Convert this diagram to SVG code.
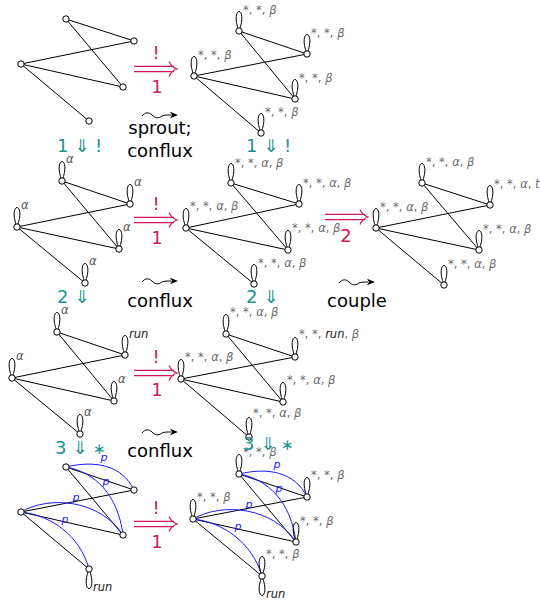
<svg xmlns="http://www.w3.org/2000/svg" xmlns:xlink="http://www.w3.org/1999/xlink" width="540" height="601" viewBox="0 0 540 601">
<style>
.e{fill:none;stroke:#000;stroke-width:1}
.b{fill:none;stroke:#1a1aff;stroke-width:1}
.n{fill:#fff;stroke:#000;stroke-width:1}
.lb{font-family:"DejaVu Sans",sans-serif;font-size:11.5px;fill:#6b6b6b}
.al{font-family:"DejaVu Sans",sans-serif;font-size:11.5px;fill:#555;font-style:italic}
.rn{font-family:"DejaVu Sans",sans-serif;font-size:11.5px;fill:#222;font-style:italic}
.i{font-style:italic}
.pl{font-family:"DejaVu Sans",sans-serif;font-size:11px;fill:#1a1aff;font-style:italic;text-anchor:middle}
.bk{font-family:"DejaVu Sans",sans-serif;font-size:18px;fill:#000;text-anchor:middle}
.cr{font-family:"DejaVu Sans",sans-serif;font-size:18px;fill:#d0165c;text-anchor:middle}
.tl{font-family:"DejaVu Sans",sans-serif;font-size:18px;fill:#1c9191}
.st{font-size:15px}
</style>
<defs>
<path id="lu" d="M0,0 C-10,-26 10,-26 0,0" fill="none" stroke="#000" stroke-width="1"/>
<path id="ld" d="M0,0 C-10,26 10,26 0,0" fill="none" stroke="#000" stroke-width="1"/>
<g id="sq"><path d="M0,1 C3,-3 7,-3 10,0 S16,4 20,1 C22,0 25,0 29,0" fill="none" stroke="#000" stroke-width="1"/><path d="M36,0 L28,-3.2 L30,0 L28,3.2Z" fill="#000"/></g>
<g id="da"><path d="M0,-2.6H40M0,2.6H40M35,-7.5 C37,-3 40,-1 43,0 C40,1 37,3 35,7.5" fill="none" stroke="#d0165c" stroke-width="1.2"/></g>
</defs>

<g id="connectors">
<path class="e" d="M66,19L134,41M66,19L123,87M21,64L134,41M21,64L123,87M21,64L89,121"/>
<path class="e" d="M239,31L307,54M239,31L295,99M194,76L307,54M194,76L295,99M194,76L261,133"/>
<path class="e" d="M62,181L130,204M62,181L119,249M17,227L130,204M17,227L119,249M17,227L85,283"/>
<path class="e" d="M231,183L299,204M231,183L288,250M186,228L299,204M186,228L288,250M186,228L254,284"/>
<path class="e" d="M422,183L490,205M422,183L479,250M376,228L490,205M376,228L479,250M376,228L444,285"/>
<path class="e" d="M57,332L125,355M57,332L114,401M12,378L125,355M12,378L114,401M12,378L80,434"/>
<path class="e" d="M226,334L295,357M226,334L283,402M181,379L295,357M181,379L283,402M181,379L249,437"/>
<path class="e" d="M66,467L134,490M66,467L123,535M21,512L134,490M21,512L123,535M21,512L89,569"/>
<path class="e" d="M239,474L307,497M239,474L296,542M193,519L307,497M193,519L296,542M193,519L262,576"/>
<path class="b" d="M66,467 C95,460 122,465 134,490M66,467 C95,472 118,495 123,535M21,512 C50,495 100,500 123,535M21,512 C50,515 80,535 89,569"/>
<path class="b" d="M239,474 C268,467 295,472 307,497M239,474 C268,479 291,502 296,542M193,519 C222,502 273,507 296,542M193,519 C222,522 252,542 262,576"/>
<text class="pl" x="104" y="461">p</text><text class="pl" x="106" y="485">p</text><text class="pl" x="76" y="501">p</text><text class="pl" x="65" y="523">p</text>
<text class="pl" x="277" y="468">p</text><text class="pl" x="279" y="492">p</text><text class="pl" x="249" y="508">p</text><text class="pl" x="238" y="530">p</text>
</g>

<g id="p1">
<g id="p1-a"><circle class="n" cx="66" cy="19" r="3.2"/></g>
<g id="p1-b"><circle class="n" cx="134" cy="41" r="3.2"/></g>
<g id="p1-c"><circle class="n" cx="21" cy="64" r="3.2"/></g>
<g id="p1-d"><circle class="n" cx="123" cy="87" r="3.2"/></g>
<g id="p1-e"><circle class="n" cx="89" cy="121" r="3.2"/></g>
</g>

<g id="p2">
<g id="p2-a"><use xlink:href="#lu" x="239" y="31"/><circle class="n" cx="239" cy="31" r="3.2"/><text class="lb" x="243" y="14">*, *, <tspan class="i">β</tspan></text></g>
<g id="p2-b"><use xlink:href="#lu" x="307" y="54"/><circle class="n" cx="307" cy="54" r="3.2"/><text class="lb" x="311" y="37">*, *, <tspan class="i">β</tspan></text></g>
<g id="p2-c"><use xlink:href="#lu" x="194" y="76"/><circle class="n" cx="194" cy="76" r="3.2"/><text class="lb" x="198" y="59">*, *, <tspan class="i">β</tspan></text></g>
<g id="p2-d"><use xlink:href="#lu" x="295" y="99"/><circle class="n" cx="295" cy="99" r="3.2"/><text class="lb" x="299" y="82">*, *, <tspan class="i">β</tspan></text></g>
<g id="p2-e"><use xlink:href="#lu" x="261" y="133"/><circle class="n" cx="261" cy="133" r="3.2"/><text class="lb" x="265" y="116">*, *, <tspan class="i">β</tspan></text></g>
</g>

<g id="p3">
<g id="p3-a"><use xlink:href="#lu" x="62" y="181"/><circle class="n" cx="62" cy="181" r="3.2"/><text class="al" x="66" y="163">α</text></g>
<g id="p3-b"><use xlink:href="#lu" x="130" y="204"/><circle class="n" cx="130" cy="204" r="3.2"/><text class="al" x="134" y="186">α</text></g>
<g id="p3-c"><use xlink:href="#lu" x="17" y="227"/><circle class="n" cx="17" cy="227" r="3.2"/><text class="al" x="21" y="209">α</text></g>
<g id="p3-d"><use xlink:href="#lu" x="119" y="249"/><circle class="n" cx="119" cy="249" r="3.2"/><text class="al" x="123" y="231">α</text></g>
<g id="p3-e"><use xlink:href="#lu" x="85" y="283"/><circle class="n" cx="85" cy="283" r="3.2"/><text class="al" x="89" y="265">α</text></g>
</g>

<g id="p4">
<g id="p4-a"><use xlink:href="#lu" x="231" y="183"/><circle class="n" cx="231" cy="183" r="3.2"/><text class="lb" x="235" y="167">*, *, <tspan class="i">α</tspan>, <tspan class="i">β</tspan></text></g>
<g id="p4-b"><use xlink:href="#lu" x="299" y="204"/><circle class="n" cx="299" cy="204" r="3.2"/><text class="lb" x="303" y="187">*, *, <tspan class="i">α</tspan>, <tspan class="i">β</tspan></text></g>
<g id="p4-c"><use xlink:href="#lu" x="186" y="228"/><circle class="n" cx="186" cy="228" r="3.2"/><text class="lb" x="190" y="210">*, *, <tspan class="i">α</tspan>, <tspan class="i">β</tspan></text></g>
<g id="p4-d"><use xlink:href="#lu" x="288" y="250"/><circle class="n" cx="288" cy="250" r="3.2"/><text class="lb" x="292" y="232">*, *, <tspan class="i">α</tspan>, <tspan class="i">β</tspan></text></g>
<g id="p4-e"><use xlink:href="#lu" x="254" y="284"/><circle class="n" cx="254" cy="284" r="3.2"/><text class="lb" x="258" y="267">*, *, <tspan class="i">α</tspan>, <tspan class="i">β</tspan></text></g>
</g>

<g id="p5">
<g id="p5-a"><use xlink:href="#lu" x="422" y="183"/><circle class="n" cx="422" cy="183" r="3.2"/><text class="lb" x="426" y="166">*, *, <tspan class="i">α</tspan>, <tspan class="i">β</tspan></text></g>
<g id="p5-b"><use xlink:href="#lu" x="490" y="205"/><circle class="n" cx="490" cy="205" r="3.2"/><text class="lb" x="494" y="188">*, *, <tspan class="i">α</tspan>, <tspan class="i">t</tspan></text></g>
<g id="p5-c"><use xlink:href="#lu" x="376" y="228"/><circle class="n" cx="376" cy="228" r="3.2"/><text class="lb" x="380" y="211">*, *, <tspan class="i">α</tspan>, <tspan class="i">β</tspan></text></g>
<g id="p5-d"><use xlink:href="#lu" x="479" y="250"/><circle class="n" cx="479" cy="250" r="3.2"/><text class="lb" x="483" y="233">*, *, <tspan class="i">α</tspan>, <tspan class="i">β</tspan></text></g>
<g id="p5-e"><use xlink:href="#lu" x="444" y="285"/><circle class="n" cx="444" cy="285" r="3.2"/><text class="lb" x="448" y="268">*, *, <tspan class="i">α</tspan>, <tspan class="i">β</tspan></text></g>
</g>

<g id="p6">
<g id="p6-a"><use xlink:href="#lu" x="57" y="332"/><circle class="n" cx="57" cy="332" r="3.2"/><text class="al" x="61" y="314">α</text></g>
<g id="p6-b"><use xlink:href="#lu" x="125" y="355"/><circle class="n" cx="125" cy="355" r="3.2"/><text class="rn" x="129" y="338">run</text></g>
<g id="p6-c"><use xlink:href="#lu" x="12" y="378"/><circle class="n" cx="12" cy="378" r="3.2"/><text class="al" x="16" y="360">α</text></g>
<g id="p6-d"><use xlink:href="#lu" x="114" y="401"/><circle class="n" cx="114" cy="401" r="3.2"/><text class="al" x="118" y="383">α</text></g>
<g id="p6-e"><use xlink:href="#lu" x="80" y="434"/><circle class="n" cx="80" cy="434" r="3.2"/><text class="al" x="84" y="416">α</text></g>
</g>

<g id="p7">
<g id="p7-a"><use xlink:href="#lu" x="226" y="334"/><circle class="n" cx="226" cy="334" r="3.2"/><text class="lb" x="230" y="316">*, *, <tspan class="i">α</tspan>, <tspan class="i">β</tspan></text></g>
<g id="p7-b"><use xlink:href="#lu" x="295" y="357"/><circle class="n" cx="295" cy="357" r="3.2"/><text class="lb" x="299" y="338">*, *, <tspan class="i" fill="#222">run</tspan>, <tspan class="i">β</tspan></text></g>
<g id="p7-c"><use xlink:href="#lu" x="181" y="379"/><circle class="n" cx="181" cy="379" r="3.2"/><text class="lb" x="185" y="361">*, *, <tspan class="i">α</tspan>, <tspan class="i">β</tspan></text></g>
<g id="p7-d"><use xlink:href="#lu" x="283" y="402"/><circle class="n" cx="283" cy="402" r="3.2"/><text class="lb" x="287" y="384">*, *, <tspan class="i">α</tspan>, <tspan class="i">β</tspan></text></g>
<g id="p7-e"><use xlink:href="#lu" x="249" y="437"/><circle class="n" cx="249" cy="437" r="3.2"/><text class="lb" x="253" y="417">*, *, <tspan class="i">α</tspan>, <tspan class="i">β</tspan></text></g>
</g>

<g id="p8">
<g id="p8-a"><circle class="n" cx="66" cy="467" r="3.2"/></g>
<g id="p8-b"><circle class="n" cx="134" cy="490" r="3.2"/></g>
<g id="p8-c"><circle class="n" cx="21" cy="512" r="3.2"/></g>
<g id="p8-d"><circle class="n" cx="123" cy="535" r="3.2"/></g>
<g id="p8-e"><use xlink:href="#ld" x="89" y="569"/><circle class="n" cx="89" cy="569" r="3.2"/><text class="rn" x="93" y="591">run</text></g>
</g>

<g id="p9">
<g id="p9-a"><use xlink:href="#lu" x="239" y="474"/><circle class="n" cx="239" cy="474" r="3.2"/><text class="lb" x="243" y="456">*, *, <tspan class="i">β</tspan></text></g>
<g id="p9-b"><use xlink:href="#lu" x="307" y="497"/><circle class="n" cx="307" cy="497" r="3.2"/><text class="lb" x="311" y="479">*, *, <tspan class="i">β</tspan></text></g>
<g id="p9-c"><use xlink:href="#lu" x="193" y="519"/><circle class="n" cx="193" cy="519" r="3.2"/><text class="lb" x="197" y="501">*, *, <tspan class="i">β</tspan></text></g>
<g id="p9-d"><use xlink:href="#lu" x="296" y="542"/><circle class="n" cx="296" cy="542" r="3.2"/><text class="lb" x="300" y="525">*, *, <tspan class="i">β</tspan></text></g>
<g id="p9-e"><use xlink:href="#lu" x="262" y="576"/><use xlink:href="#ld" x="262" y="576"/><circle class="n" cx="262" cy="576" r="3.2"/><text class="lb" x="266" y="558">*, *, <tspan class="i">β</tspan></text><text class="rn" x="266" y="598">run</text></g>
</g>

<g id="transitions">
<use xlink:href="#da" x="134" y="69"/><text class="cr" x="156" y="59">!</text><text class="cr" x="157" y="93">1</text>
<use xlink:href="#da" x="134" y="220"/><text class="cr" x="156" y="210">!</text><text class="cr" x="157" y="244">1</text>
<use xlink:href="#da" x="325" y="217"/><text class="cr" x="346" y="242">2</text>
<use xlink:href="#da" x="134" y="373"/><text class="cr" x="156" y="363">!</text><text class="cr" x="157" y="396">1</text>
<use xlink:href="#da" x="134" y="524"/><text class="cr" x="156" y="514">!</text><text class="cr" x="157" y="548">1</text>
<use xlink:href="#sq" x="142" y="115"/><use xlink:href="#sq" x="142" y="281"/><use xlink:href="#sq" x="339" y="282"/><use xlink:href="#sq" x="142" y="432"/>
<text class="bk" x="160" y="134">sprout;</text><text class="bk" x="160" y="157">conflux</text>
<text class="bk" x="160" y="307">conflux</text><text class="bk" x="357" y="307">couple</text>
<text class="bk" x="160" y="457">conflux</text>
<text class="tl" x="57" y="152">1 ⇓ !</text><text class="tl" x="246" y="152">1 ⇓ !</text>
<text class="tl" x="57" y="303">2 ⇓</text><text class="tl" x="246" y="303">2 ⇓</text>
<text class="tl" x="55" y="454">3 ⇓ <tspan class="st">∗</tspan></text><text class="tl" x="243" y="450">3 ⇓ <tspan class="st">∗</tspan></text>
</g>
</svg>
